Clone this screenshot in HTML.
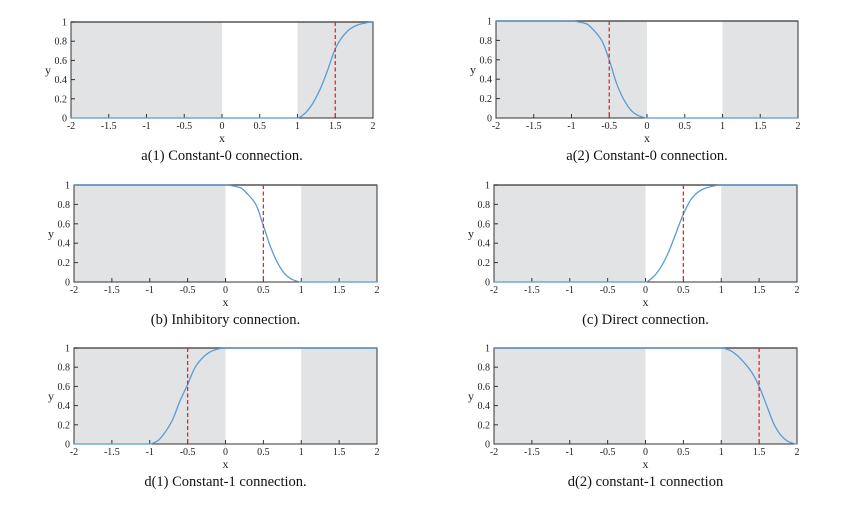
<!DOCTYPE html>
<html><head><meta charset="utf-8"><style>
html,body{margin:0;padding:0;background:#fff;}
svg{display:block;font-family:"Liberation Serif",serif;}
</style></head><body>
<svg id="fig" width="862" height="523" viewBox="0 0 862 523" xmlns="http://www.w3.org/2000/svg"></svg>
<script>
const xTicks=[-2,-1.5,-1,-0.5,0,0.5,1,1.5,2];
const xTickLabels=["-2","-1.5","-1","-0.5","0","0.5","1","1.5","2"];
const yTicks=[0,0.2,0.4,0.6,0.8,1];
const yTickLabels=["0","0.2","0.4","0.6","0.8","1"];
const shadedRegions=[[-2,0],[1,2]];
const a1X=[-2,1,1.1,1.2,1.3,1.4,1.5,1.6,1.7,1.8,1.9,2];
const a1Y=[0,0,0.05,0.15,0.3,0.5,0.72,0.85,0.93,0.97,0.99,1];
const a2X=[-2,-1,-0.9,-0.8,-0.7,-0.6,-0.5,-0.4,-0.3,-0.2,-0.1,0,2];
const a2Y=[1,1,0.99,0.97,0.9,0.8,0.6,0.35,0.18,0.07,0.02,0,0];
const bX=[-2,0,0.1,0.2,0.3,0.4,0.5,0.6,0.7,0.8,0.9,1,2];
const bY=[1,1,0.99,0.97,0.9,0.8,0.58,0.35,0.18,0.07,0.02,0,0];
const cX=[-2,0,0.1,0.2,0.3,0.4,0.5,0.6,0.7,0.8,0.9,1,2];
const cY=[0,0,0.05,0.15,0.3,0.5,0.7,0.85,0.93,0.97,0.99,1,1];
const d1X=[-2,-1,-0.9,-0.8,-0.7,-0.6,-0.5,-0.4,-0.3,-0.2,-0.1,0,2];
const d1Y=[0,0,0.03,0.12,0.25,0.45,0.62,0.8,0.9,0.96,0.99,1,1];
const d2X=[-2,1,1.1,1.2,1.3,1.4,1.5,1.6,1.7,1.8,1.9,2];
const d2Y=[1,1,0.98,0.93,0.85,0.75,0.6,0.4,0.2,0.08,0.02,0];
const redLines=[1.5,-0.5,0.5,0.5,-0.5,1.5];
const captions=["a(1) Constant-0 connection.","a(2) Constant-0 connection.","(b) Inhibitory connection.","(c) Direct connection.","d(1) Constant-1 connection.","d(2) constant-1 connection"];
const seriesX=[a1X,a2X,bX,cX,d1X,d2X];
const seriesY=[a1Y,a2Y,bY,cY,d1Y,d2Y];
const panelNames=["a1","a2","b","c","d1","d2"];
const boxes=[[71,22,373,118],[496,21,798,118],[74,185,377,282],[494,185,797,282],[74,348,377,444],[494,348,797,444]];

const NS="http://www.w3.org/2000/svg";
const fig=document.getElementById('fig');
function mk(tag,attrs,parent){const e=document.createElementNS(NS,tag);for(const k in attrs)e.setAttribute(k,attrs[k]);parent.appendChild(e);return e;}

function monoPath(P){
  const n=P.length;const s=[],m=[];
  for(let k=0;k<n-1;k++)s.push((P[k+1][1]-P[k][1])/(P[k+1][0]-P[k][0]));
  m[0]=0;m[n-1]=0;
  for(let k=1;k<n-1;k++){
    if(s[k-1]*s[k]<=0)m[k]=0;
    else{const h0=P[k][0]-P[k-1][0],h1=P[k+1][0]-P[k][0];
      m[k]=3*(h0+h1)/((2*h1+h0)/s[k-1]+(h1+2*h0)/s[k]);}
  }
  let d='M'+P[0][0].toFixed(2)+','+P[0][1].toFixed(2);
  for(let k=0;k<n-1;k++){
    const h=(P[k+1][0]-P[k][0])/3;
    d+=' C'+(P[k][0]+h).toFixed(2)+','+(P[k][1]+m[k]*h).toFixed(2)+' '+(P[k+1][0]-h).toFixed(2)+','+(P[k+1][1]-m[k+1]*h).toFixed(2)+' '+P[k+1][0].toFixed(2)+','+P[k+1][1].toFixed(2);
  }
  return d;
}

boxes.forEach((bx,i)=>{
  const [L,T,R,B]=bx;
  const sx=v=>L+(v+2)/4*(R-L);
  const sy=v=>B-v*(B-T);
  const g=mk('g',{},fig);
  
  
  shadedRegions.forEach(r=>{
    const s=mk('rect',{x:sx(r[0]),y:T,width:sx(r[1])-sx(r[0]),height:B-T,fill:'#e1e3e4'},g);
    
    
  });
  const fr=mk('rect',{x:L,y:T,width:R-L,height:B-T,fill:'none',stroke:'#333','stroke-width':1},g);
  
  
  mk('line',{x1:L,y1:T,x2:R,y2:T,stroke:'#555','stroke-width':1.6},g);
  xTicks.forEach((t,j)=>{
    mk('line',{x1:sx(t),y1:B,x2:sx(t),y2:B-4,stroke:'#333','stroke-width':1},g);
    const tx=mk('text',{x:sx(t),y:B+11,'font-size':10,'text-anchor':'middle',fill:'#222'},g);
    tx.textContent=xTickLabels[j];
    
    
  });
  yTicks.forEach((t,j)=>{
    mk('line',{x1:L,y1:sy(t),x2:L+4,y2:sy(t),stroke:'#333','stroke-width':1},g);
    const ty=mk('text',{x:L-4,y:sy(t)+3.5,'font-size':10,'text-anchor':'end',fill:'#222'},g);
    ty.textContent=yTickLabels[j];
    
    
  });
  const xl=mk('text',{x:(L+R)/2,y:B+24,'font-size':12,'text-anchor':'middle',fill:'#222'},g);
  xl.textContent='x';
  
  
  const yl=mk('text',{x:L-20,y:(T+B)/2+4,'font-size':12,'text-anchor':'end',fill:'#222'},g);
  yl.textContent='y';
  
  
  const X=seriesX[i],Y=seriesY[i];
  const P=X.map((x,k)=>[sx(x),sy(Y[k])]);
  const cv=mk('path',{d:monoPath(P),fill:'none',stroke:'#5b9bd5','stroke-width':1.3},g);
  
  
  const rl=mk('line',{x1:sx(redLines[i]),y1:T,x2:sx(redLines[i]),y2:B,stroke:'#e8262a','stroke-width':1.3,'stroke-dasharray':'4,2.5'},g);
  
  
  const cap=mk('text',{x:(L+R)/2,y:B+42,'font-size':14.5,'text-anchor':'middle',fill:'#111'},g);
  cap.textContent=captions[i];
  
  
});
</script>
</body></html>
